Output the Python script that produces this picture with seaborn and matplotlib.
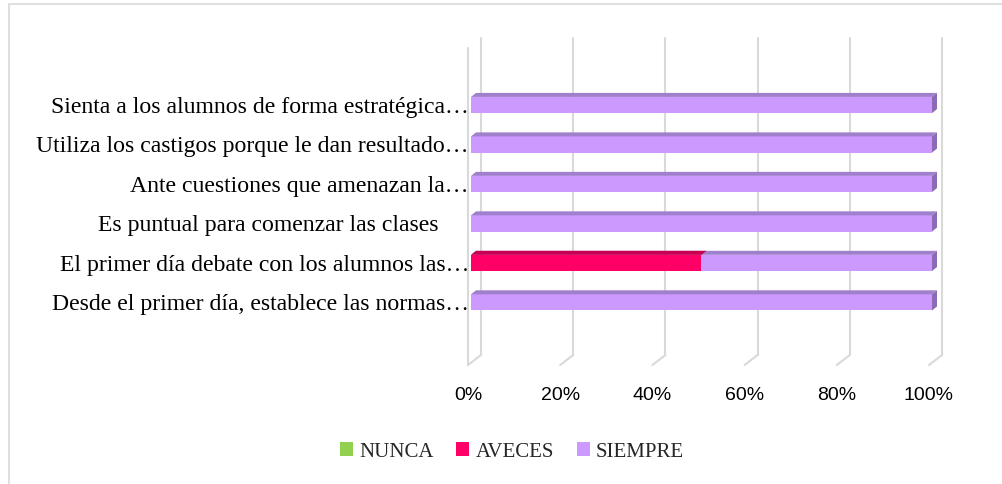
import numpy as np
import pandas as pd
import matplotlib
matplotlib.use("Agg")
import matplotlib.pyplot as plt
import seaborn as sns
from matplotlib.patches import Polygon, Patch, Rectangle
from matplotlib.lines import Line2D
from matplotlib.transforms import IdentityTransform, ScaledTranslation

# data, top row first
ITEMS = [
    "Sienta a los alumnos de forma estratégica…",
    "Utiliza los castigos porque le dan resultado…",
    "Ante cuestiones que amenazan la…",
    "Es puntual para comenzar las clases     ",
    "El primer día debate con los alumnos las…",
    "Desde el primer día, establece las normas…",
]
NUNCA   = [0, 0, 0, 0, 0, 0]
AVECES  = [0, 0, 0, 0, 50, 0]
SIEMPRE = [100, 100, 100, 100, 50, 100]
SERIES  = ["NUNCA", "AVECES", "SIEMPRE"]
XTICKS  = [0, 20, 40, 60, 80, 100]

COLORS = {"NUNCA": "#92D050", "AVECES": "#FF0066", "SIEMPRE": "#CC99FF"}
TOPS   = {"NUNCA": "#76A83E", "AVECES": "#C9004F", "SIEMPRE": "#A07FCC"}
SIDE   = "#8B6BB5"
GRID   = "#D9D9D9"

DPI = 100
W, H = 1003, 484
AX_L, AX_R, AX_T, AX_B = 471, 932, 45, 362   # bar front plane, px
BACK  = (10, 7)     # back wall offset (px right, px up)
FRONT = (-3, -3)    # front edge offset
DEPTH = (5, 4)      # bar depth

df = pd.DataFrame({"item": ITEMS, "NUNCA": NUNCA, "AVECES": AVECES, "SIEMPRE": SIEMPRE})
df["cum_NUNCA"] = df["NUNCA"]
df["cum_AVECES"] = df["cum_NUNCA"] + df["AVECES"]
df["cum_SIEMPRE"] = df["cum_AVECES"] + df["SIEMPRE"]

sns.set_theme(style="white")
plt.rcParams["font.family"] = ["Liberation Serif", "DejaVu Serif"]

fig = plt.figure(figsize=(W / DPI, H / DPI), dpi=DPI)
fig.patch.set_facecolor("white")
ax = fig.add_axes([AX_L / W, 1 - AX_B / H, (AX_R - AX_L) / W, (AX_B - AX_T) / H])

# stacked bars drawn as cumulative layers, widest first
groups = []
for z, s in enumerate(["SIEMPRE", "AVECES", "NUNCA"]):
    n0 = len(ax.patches)
    sns.barplot(data=df, x="cum_" + s, y="item", color=COLORS[s], saturation=1,
                width=0.41, ax=ax, orient="h", linewidth=0)
    new = ax.patches[n0:]
    for p in new:
        p.set_zorder(3 + z * 2)
    groups.append((s, new, 3 + z * 2))

ax.set_xlim(0, 100)
ax.set_ylim(len(ITEMS) - 1 + 1.51, -1.52)
for sp in ax.spines.values():
    sp.set_visible(False)
ax.grid(False)
ax.set_xlabel("")
ax.set_ylabel("")
fig.canvas.draw()

# 3d faces of the bars, in display pixels
for s, patches, z in groups:
    for p in patches:
        if p.get_width() <= 0:
            continue
        x0, y0 = ax.transData.transform((p.get_x(), p.get_y()))
        x1, y1 = ax.transData.transform((p.get_x() + p.get_width(), p.get_y() + p.get_height()))
        ytop = max(y0, y1)
        ybot = min(y0, y1)
        dx, dy = DEPTH
        top = Polygon([(x0, ytop), (x1, ytop), (x1 + dx, ytop + dy), (x0 + dx, ytop + dy)],
                      closed=True, facecolor=TOPS[s], edgecolor="none",
                      transform=IdentityTransform(), zorder=z + 0.5, clip_on=False)
        ax.add_patch(top)
        if s == "SIEMPRE":
            side = Polygon([(x1, ybot), (x1, ytop), (x1 + dx, ytop + dy), (x1 + dx, ybot + dy)],
                           closed=True, facecolor=SIDE, edgecolor="none",
                           transform=IdentityTransform(), zorder=z + 0.5, clip_on=False)
            ax.add_patch(side)

# back wall grid, floor feet and left front edge
yb, yt = ax.bbox.y0, ax.bbox.y1
for t in XTICKS:
    x = ax.transData.transform((t, 0))[0]
    bx, by = x + BACK[0], BACK[1]
    fx, fy = x + FRONT[0], FRONT[1]
    for xs, ys in [([bx, bx], [yb + by, yt + by]), ([bx, fx], [yb + by, yb + fy])]:
        ax.add_line(Line2D(xs, ys, color=GRID, lw=1.5, transform=IdentityTransform(),
                           clip_on=False, zorder=1))
    if t == 0:
        ax.add_line(Line2D([fx, fx], [yb + fy, yt + fy], color=GRID, lw=1.5,
                           transform=IdentityTransform(), clip_on=False, zorder=1))

ax.set_xticks(XTICKS)
ax.set_xticklabels([f"{t}%" for t in XTICKS], fontfamily="Liberation Sans", fontsize=14)
ax.tick_params(axis="x", length=0, pad=18, colors="#000000")
ax.tick_params(axis="y", length=0, pad=1.5, labelsize=17.1, colors="#000000")
shift = ScaledTranslation(FRONT[0] / DPI, 0, fig.dpi_scale_trans)
for lab in ax.get_xticklabels():
    lab.set_transform(lab.get_transform() + shift)

handles = [Patch(facecolor=COLORS[s], edgecolor="none") for s in SERIES]
fig.legend(handles, SERIES, loc="center", bbox_to_anchor=(512 / W, 1 - 452 / H), ncol=3,
           frameon=False, fontsize=15, handlelength=0.62, handleheight=0.62,
           handletextpad=0.3, columnspacing=1.1)

fig.add_artist(Rectangle((9 / W, -0.1), 1.2, 1 - 4 / H + 0.1, transform=fig.transFigure,
                         fill=False, edgecolor=GRID, lw=1.2))

fig.savefig("out.png", dpi=DPI, facecolor="white")
